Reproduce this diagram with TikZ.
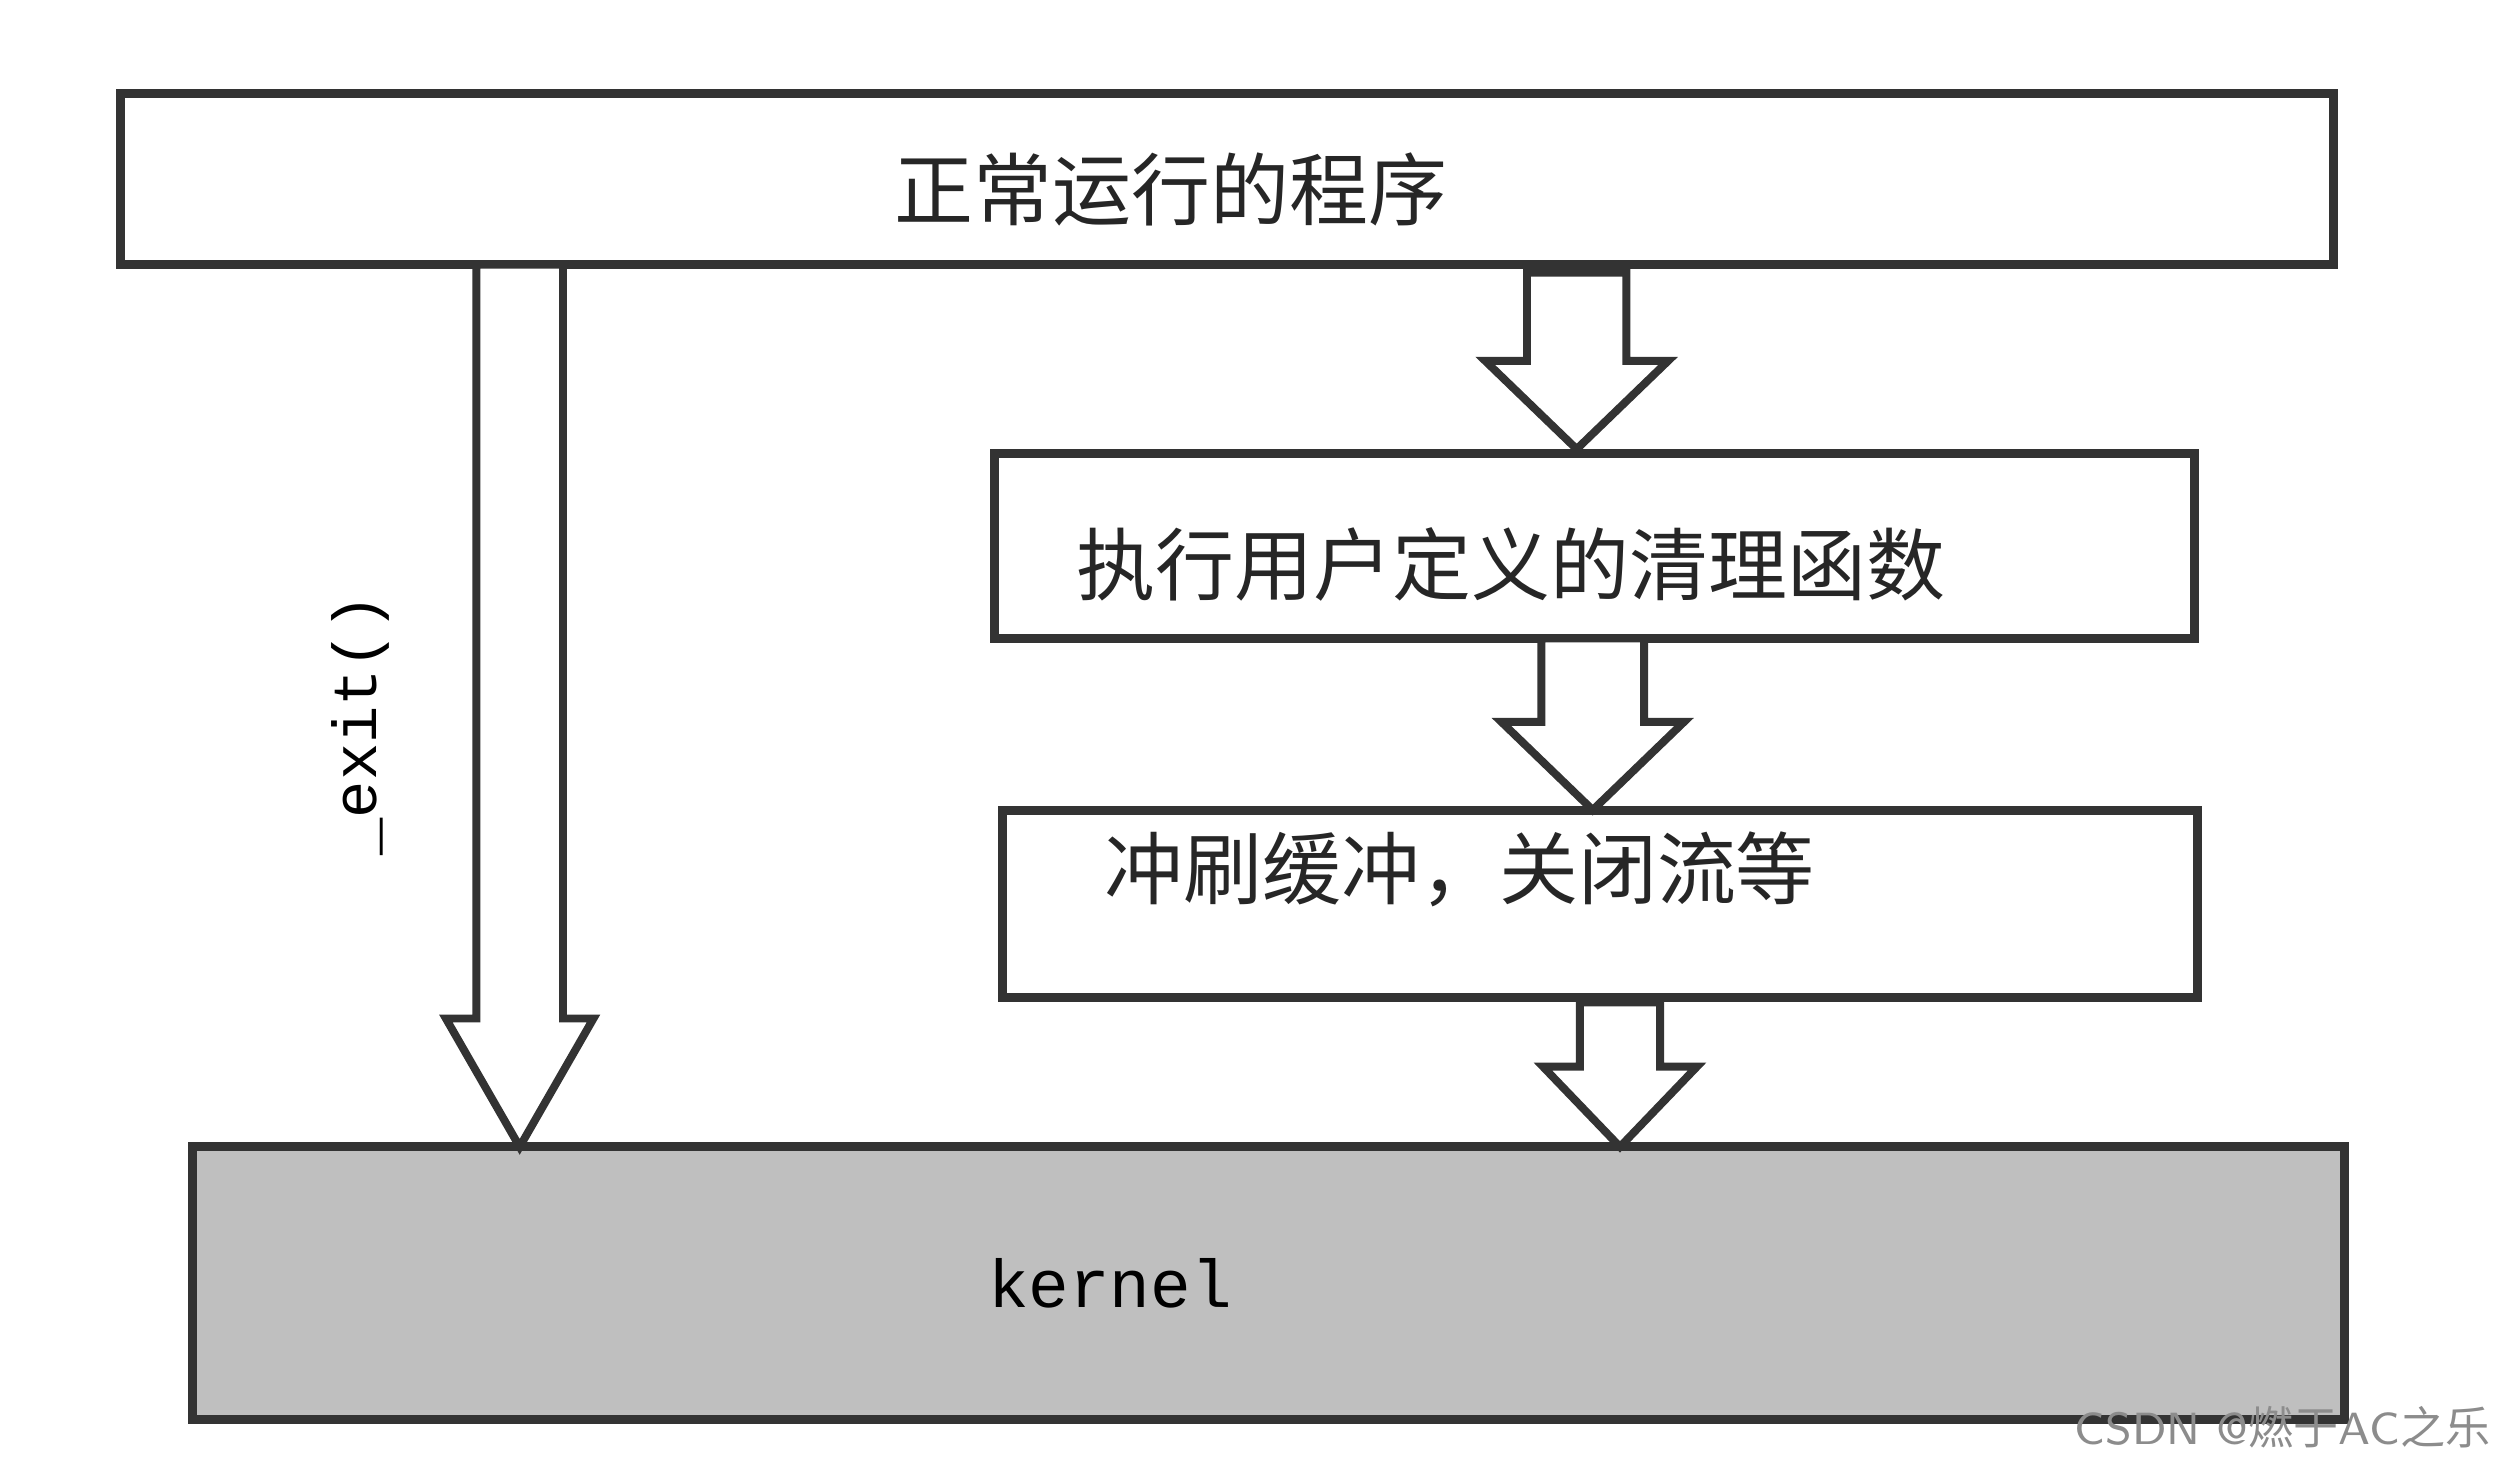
\documentclass[tikz,border=0pt]{standalone}
\usepackage{fontspec}
\newfontfamily\cjk{Noto Sans CJK SC}
\newfontfamily\monof{Liberation Mono}
\begin{document}
\begin{tikzpicture}[x=0.01cm,y=-0.01cm,
  box/.style={draw=black!80,line width=1.6pt},
  harrow/.style={draw=black!80,line width=1.4pt,fill=white,line join=miter},
  lab/.style={font=\cjk\fontsize{14}{16}\selectfont,text=black!85}]
\useasboundingbox (0,0) rectangle (1568,917);
% args: xc, ytop, ytip, shaft half, head half, head length
\newcommand\hollowarrow[6]{%
  \draw[harrow] (#1-#4,#2) -- (#1+#4,#2) -- (#1+#4,#3-#6) -- (#1+#5,#3-#6) -- (#1,#3) -- (#1-#5,#3-#6) -- (#1-#4,#3-#6) -- cycle;}
\draw[box] (75,58) rectangle (1455,165);
\node[lab] (top) at (730,118) {正常运行的程序};
\draw[box] (620,283) rectangle (1368,398);
\node[lab] (clean) at (942,352) {执行用户定义的清理函数};
\draw[box] (625,505) rectangle (1370,622);
\node[lab] (flush) at (910,542) {冲刷缓冲，关闭流等};
\draw[box,fill=black!25] (120,715) rectangle (1462,885);
\node[font=\monof\fontsize{12}{14}\selectfont] (kern) at (692,800) {kernel};
\hollowarrow{324}{165}{715}{27}{46}{80}
\hollowarrow{983}{170}{280}{31}{57}{55}
\hollowarrow{993}{398}{505}{32}{57}{55}
\hollowarrow{1010}{625}{715}{25}{48}{50}
\node[font=\monof\fontsize{11}{13}\selectfont,rotate=90] (ex) at (225,452) {\_exit()};
\node[font=\sffamily\fontsize{8}{10}\selectfont,text=black!45,anchor=east] (wm) at (1565,890) {CSDN @{\cjk 燃于}AC{\cjk 之乐}};
\end{tikzpicture}
\end{document}
